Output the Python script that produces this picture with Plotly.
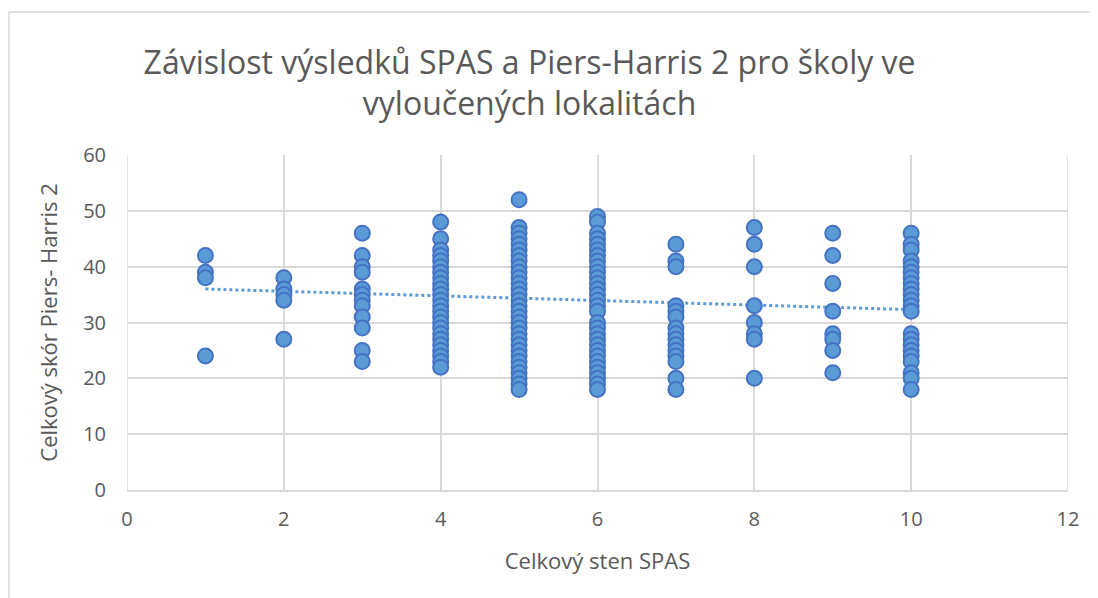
import plotly.graph_objects as go

# hodnoty (sten SPAS -> skóre Piers-Harris 2)
sten_1 = [42, 39, 38, 24]
sten_2 = [38, 36, 35, 34, 27]
sten_3 = [46, 42, 40, 39, 36, 35, 34, 33, 31, 29, 25, 23]
sten_4 = [48, 45, 43, 42, 41, 40, 39, 38, 37, 36, 35, 34, 33, 32, 31, 30,
          29, 28, 27, 26, 25, 24, 23, 22]
sten_5 = [52, 47, 46, 45, 44, 43, 42, 41, 40, 39, 38, 37, 36, 35, 34, 33,
          32, 31, 30, 29, 28, 27, 26, 25, 24, 23, 22, 21, 20, 19, 18]
sten_6 = [49, 48, 46, 45, 44, 43, 42, 41, 40, 39, 38, 37, 36, 35, 34, 33,
          32, 30, 29, 28, 27, 26, 25, 24, 23, 22, 21, 20, 19, 18]
sten_7 = [44, 41, 40, 33, 32, 31, 29, 28, 27, 26, 25, 24, 23, 20, 18]
sten_8 = [47, 44, 40, 33, 30, 28, 27, 20]
sten_9 = [46, 42, 37, 32, 28, 27, 25, 21]
sten_10 = [46, 44, 43, 41, 40, 39, 38, 37, 36, 35, 34, 33, 32, 28, 27, 26,
           25, 24, 23, 21, 20, 18]

columns = [sten_1, sten_2, sten_3, sten_4, sten_5, sten_6, sten_7, sten_8, sten_9, sten_10]

# lineární spojnice trendu
trend_x = [1, 10]
trend_y = [36.0, 32.3]

xs, ys = [], []
for i, col in enumerate(columns):
    xs += [i + 1] * len(col)
    ys += col

fig = go.Figure()
fig.add_trace(go.Scatter(
    x=trend_x, y=trend_y, mode='lines',
    line=dict(color='#5B9BD5', width=3, dash='dot'),
    hoverinfo='skip', showlegend=False))
fig.add_trace(go.Scatter(
    x=xs, y=ys, mode='markers',
    marker=dict(size=15, color='#5B9BD5', line=dict(color='#4472C4', width=2)),
    showlegend=False))

grid = '#d9d9d9'
font_col = '#595959'
fig.update_layout(
    width=1098, height=598,
    margin=dict(l=119, r=38, t=147, b=116),
    plot_bgcolor='white', paper_bgcolor='white',
    font=dict(family='Open Sans', color=font_col),
    title=dict(text='Závislost výsledků SPAS a Piers-Harris 2 pro školy ve<br>vyloučených lokalitách',
               x=0.475, xanchor='center', y=0.89, yanchor='top',
               font=dict(size=32, color=font_col, family='Open Sans')),
    xaxis=dict(range=[0, 12], dtick=2, showgrid=True, gridcolor=grid, gridwidth=1.5,
               showline=True, linecolor=grid, linewidth=1.5, mirror=False, zeroline=False,
               tickfont=dict(size=20, color=font_col), ticks='outside', ticklen=10, tickcolor='white',
               title=dict(text='Celkový sten SPAS', font=dict(size=22, color=font_col), standoff=23)),
    yaxis=dict(range=[0, 60], dtick=10, showgrid=True, gridcolor=grid, gridwidth=1.5,
               showline=False, zeroline=False,
               tickfont=dict(size=20, color=font_col), ticks='outside', ticklen=16, tickcolor='white',
               title=dict(text='Celkový skór Piers- Harris 2', font=dict(size=22, color=font_col), standoff=19)),
    shapes=[
        dict(type='line', xref='x', yref='y', x0=0, x1=0, y0=0, y1=60, line=dict(color=grid, width=1.5)),
        dict(type='line', xref='x', yref='y', x0=12, x1=12, y0=0, y1=60, line=dict(color=grid, width=1.5)),
        dict(type='line', xref='paper', yref='paper', x0=-0.1254, x1=1.1, y0=1.427, y1=1.427,
             line=dict(color='#d9d9d9', width=1.5)),
        dict(type='line', xref='paper', yref='paper', x0=-0.1254, x1=-0.1254, y0=-0.5, y1=1.427,
             line=dict(color='#d9d9d9', width=1.5)),
    ],
)

fig.write_html('out.html')
